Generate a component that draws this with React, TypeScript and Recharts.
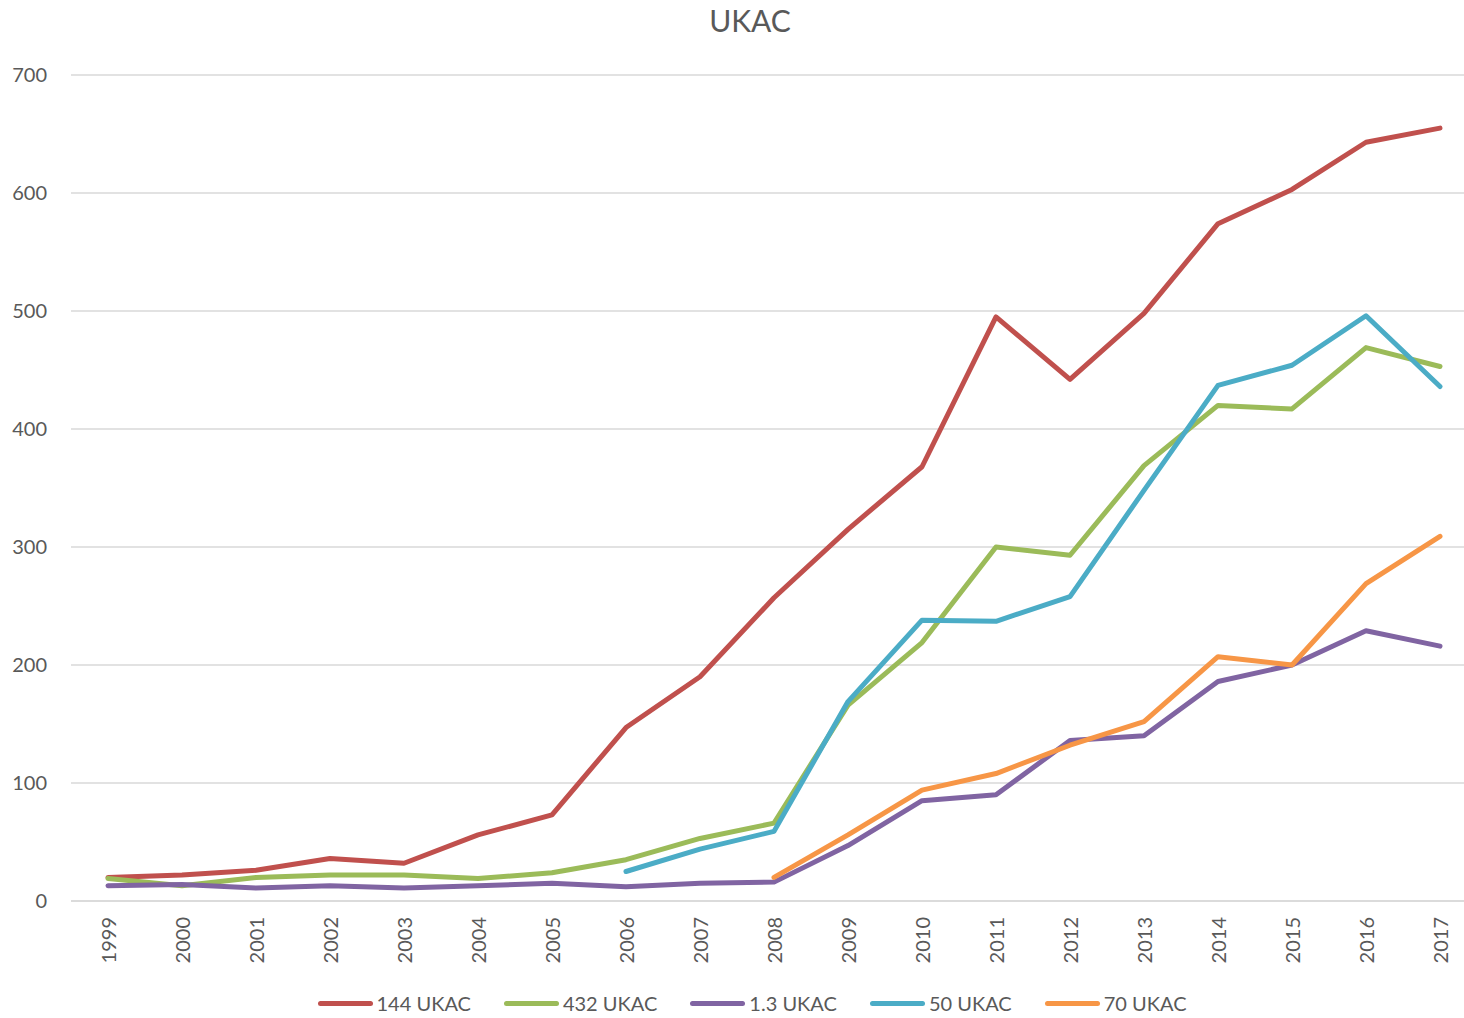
import React from 'react';
import {
  LineChart,
  Line,
  XAxis,
  YAxis,
  CartesianGrid,
  Legend
} from 'recharts';

// Years on the category axis
const years = [
  '1999', '2000', '2001', '2002', '2003', '2004', '2005', '2006', '2007', '2008',
  '2009', '2010', '2011', '2012', '2013', '2014', '2015', '2016', '2017'
];

// Values (null = no entry that year)
const ukac144 = [20, 22, 26, 36, 32, 56, 73, 147, 190, 257, 315, 368, 495, 442, 498, 574, 603, 643, 655];
const ukac432 = [19, 13, 20, 22, 22, 19, 24, 35, 53, 66, 166, 219, 300, 293, 369, 420, 417, 469, 453];
const ukac13 = [13, 14, 11, 13, 11, 13, 15, 12, 15, 16, 47, 85, 90, 136, 140, 186, 200, 229, 216];
const ukac50 = [null, null, null, null, null, null, null, 25, 44, 59, 169, 238, 237, 258, 348, 437, 454, 496, 436];
const ukac70 = [null, null, null, null, null, null, null, null, null, 20, 56, 94, 108, 132, 152, 207, 200, 269, 309];

const yTicks = [0, 100, 200, 300, 400, 500, 600, 700];

const series = [
  { key: '144 UKAC', values: ukac144, color: '#C0504D' },
  { key: '432 UKAC', values: ukac432, color: '#9BBB59' },
  { key: '1.3 UKAC', values: ukac13, color: '#8064A2' },
  { key: '50 UKAC', values: ukac50, color: '#4BACC6' },
  { key: '70 UKAC', values: ukac70, color: '#F79646' }
];

const data = years.map((year, i) => {
  const row: Record<string, string | number | null> = { year };
  series.forEach(s => {
    row[s.key] = s.values[i];
  });
  return row;
});

const textColor = '#595959';
const font = 'Lato, "Open Sans", sans-serif';

const YearTick = (props: any) => {
  const { x, y, payload } = props;
  return (
    <text
      x={x}
      y={y}
      transform={`rotate(-90 ${x} ${y})`}
      textAnchor="end"
      dominantBaseline="central"
      fill={textColor}
      fontSize={20}
      fontFamily={font}
    >
      {payload.value}
    </text>
  );
};

const LegendBox = () => (
  <div style={{ display: 'flex', justifyContent: 'center', alignItems: 'center', height: 30, paddingLeft: 60, fontFamily: font, fontSize: 20, color: textColor }}>
    {series.map(s => (
      <div key={s.key} style={{ display: 'flex', alignItems: 'center', marginRight: 33 }}>
        <span style={{ display: 'inline-block', width: 55, height: 5, borderRadius: 3, background: s.color, marginRight: 4 }} />
        <span>{s.key}</span>
      </div>
    ))}
  </div>
);

const App: React.FC = () => {
  return (
    <div style={{ position: 'absolute', left: 0, top: 0, width: 1464, height: 1018, overflow: 'hidden', background: '#fff' }}>
      <div style={{ position: 'absolute', top: 2, left: 0, width: 1500, textAlign: 'center', fontFamily: font, fontSize: 30, color: textColor }}>
        UKAC
      </div>
      <LineChart width={1480} height={1018} data={data} margin={{ top: 75, right: 3, left: 0, bottom: 0 }}>
        <CartesianGrid vertical={false} stroke="#d9d9d9" strokeWidth={1.5} />
        <XAxis
          dataKey="year"
          interval={0}
          padding={{ left: 37, right: 37 }}
          height={87}
          tickLine={false}
          tickSize={0}
          tickMargin={16}
          axisLine={{ stroke: '#d9d9d9', strokeWidth: 1.5 }}
          tick={<YearTick />}
        />
        <YAxis
          width={71}
          domain={[0, 700]}
          ticks={yTicks}
          interval={0}
          tickLine={false}
          axisLine={false}
          tickSize={0}
          tickMargin={24}
          tick={{ fill: textColor, fontSize: 20, fontFamily: font }}
        />
        <Legend verticalAlign="bottom" height={30} content={<LegendBox />} />
        {series.map(s => (
          <Line
            key={s.key}
            type="linear"
            dataKey={s.key}
            stroke={s.color}
            strokeWidth={5}
            strokeLinecap="round"
            strokeLinejoin="round"
            dot={false}
            activeDot={false}
            isAnimationActive={false}
          />
        ))}
      </LineChart>
    </div>
  );
};

export default App;
